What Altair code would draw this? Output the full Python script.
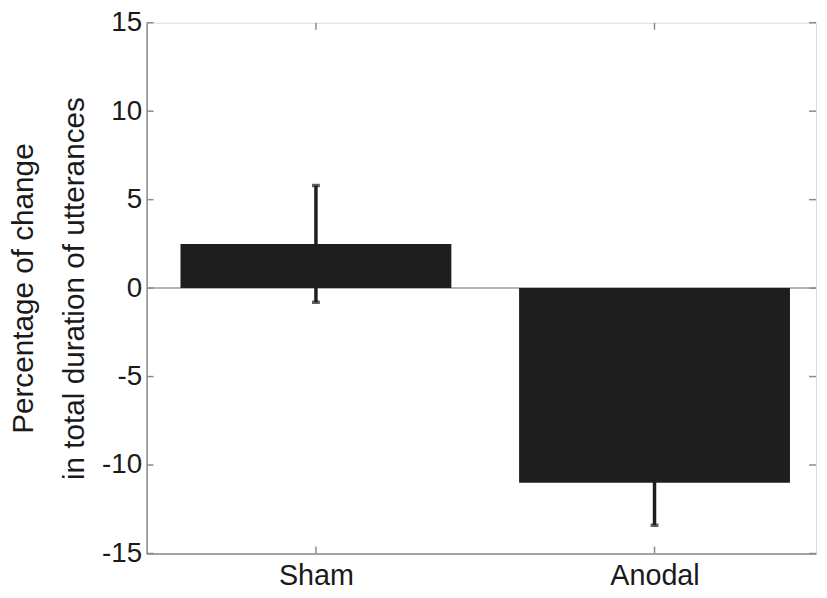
import altair as alt
import pandas as pd

groups = ["Sham", "Anodal"]
positions = [1, 2]
means = [2.5, -11.0]
errors = [3.3, 2.4]
y_ticks = [-15, -10, -5, 0, 5, 10, 15]

df = pd.DataFrame({"group": groups, "pos": positions, "mean": means, "err": errors})
df["lo"] = df["mean"] - df["err"]
df["hi"] = df["mean"] + df["err"]

W, H = 676, 536
FONT = "Liberation Sans"
AX = "#8a8a8a"
BAR = "#1e1e1e"

xs = alt.Scale(domain=[0.5, 2.477], nice=False, zero=False)
ys = alt.Scale(domain=[-15, 15], nice=False)

label_expr = "datum.value == 1 ? 'Sham' : datum.value == 2 ? 'Anodal' : ''"

base = alt.Chart(df)

zero = alt.Chart(pd.DataFrame({"z": [0]})).mark_rule(color="#b5b5b5", strokeWidth=2).encode(
    y=alt.Y("z:Q", scale=ys)
)

bars = base.mark_bar(color=BAR).encode(
    x=alt.X("x0:Q", scale=xs,
            axis=alt.Axis(values=positions, labelExpr=label_expr, title=None, ticks=False,
                          grid=False, labelFontSize=29, labelFont=FONT, labelColor="#1a1a1a",
                          labelPadding=8, domainColor=AX, domainWidth=1.5)),
    x2="x1:Q",
    y=alt.Y("mean:Q", scale=ys,
            axis=alt.Axis(values=y_ticks, labelExpr="'' + datum.value", ticks=False, grid=False,
                          labelFontSize=28, labelFont=FONT, labelColor="#1a1a1a", labelPadding=5,
                          domainColor=AX, domainWidth=1.5,
                          title=["Percentage of change", "in total duration of utterances"],
                          titleFontSize=30, titleFont=FONT, titleFontWeight="normal",
                          titleColor="#1a1a1a", titlePadding=12, titleLineHeight=52)),
    y2=alt.datum(0),
).transform_calculate(x0="datum.pos - 0.4", x1="datum.pos + 0.4")

ebar = base.mark_rule(color=BAR, strokeWidth=3.5).encode(
    x=alt.X("pos:Q", scale=xs), y=alt.Y("lo:Q", scale=ys), y2="hi:Q"
)
cap_lo = base.mark_tick(color=BAR, orient="horizontal", size=8, thickness=3.5).encode(
    x=alt.X("pos:Q", scale=xs), y=alt.Y("lo:Q", scale=ys)
)
cap_hi = base.mark_tick(color=BAR, orient="horizontal", size=8, thickness=3.5).encode(
    x=alt.X("pos:Q", scale=xs), y=alt.Y("hi:Q", scale=ys)
)

ytick_df = pd.DataFrame({"t": y_ticks})
xtick_df = pd.DataFrame({"p": positions})
yt_left = alt.Chart(ytick_df).mark_rule(color=AX, strokeWidth=1.5).encode(
    y=alt.Y("t:Q", scale=ys), x=alt.value(0), x2=alt.value(7))
yt_right = alt.Chart(ytick_df).mark_rule(color=AX, strokeWidth=1.5).encode(
    y=alt.Y("t:Q", scale=ys), x=alt.value(W - 7), x2=alt.value(W))
xt_bot = alt.Chart(xtick_df).mark_rule(color=AX, strokeWidth=1.5).encode(
    x=alt.X("p:Q", scale=xs), y=alt.value(H - 7), y2=alt.value(H))
xt_top = alt.Chart(xtick_df).mark_rule(color=AX, strokeWidth=1.5).encode(
    x=alt.X("p:Q", scale=xs), y=alt.value(0), y2=alt.value(7))

chart = alt.layer(zero, bars, ebar, cap_lo, cap_hi, yt_left, yt_right, xt_bot, xt_top).properties(
    width=W, height=H,
    autosize=alt.AutoSizeParams(type="none"),
    padding={"left": 140, "top": 12, "right": 3, "bottom": 34},
).configure_view(stroke=AX, strokeWidth=1.5).configure(background="white")

chart.save("out.html", embed_options={"renderer": "svg", "actions": False})
